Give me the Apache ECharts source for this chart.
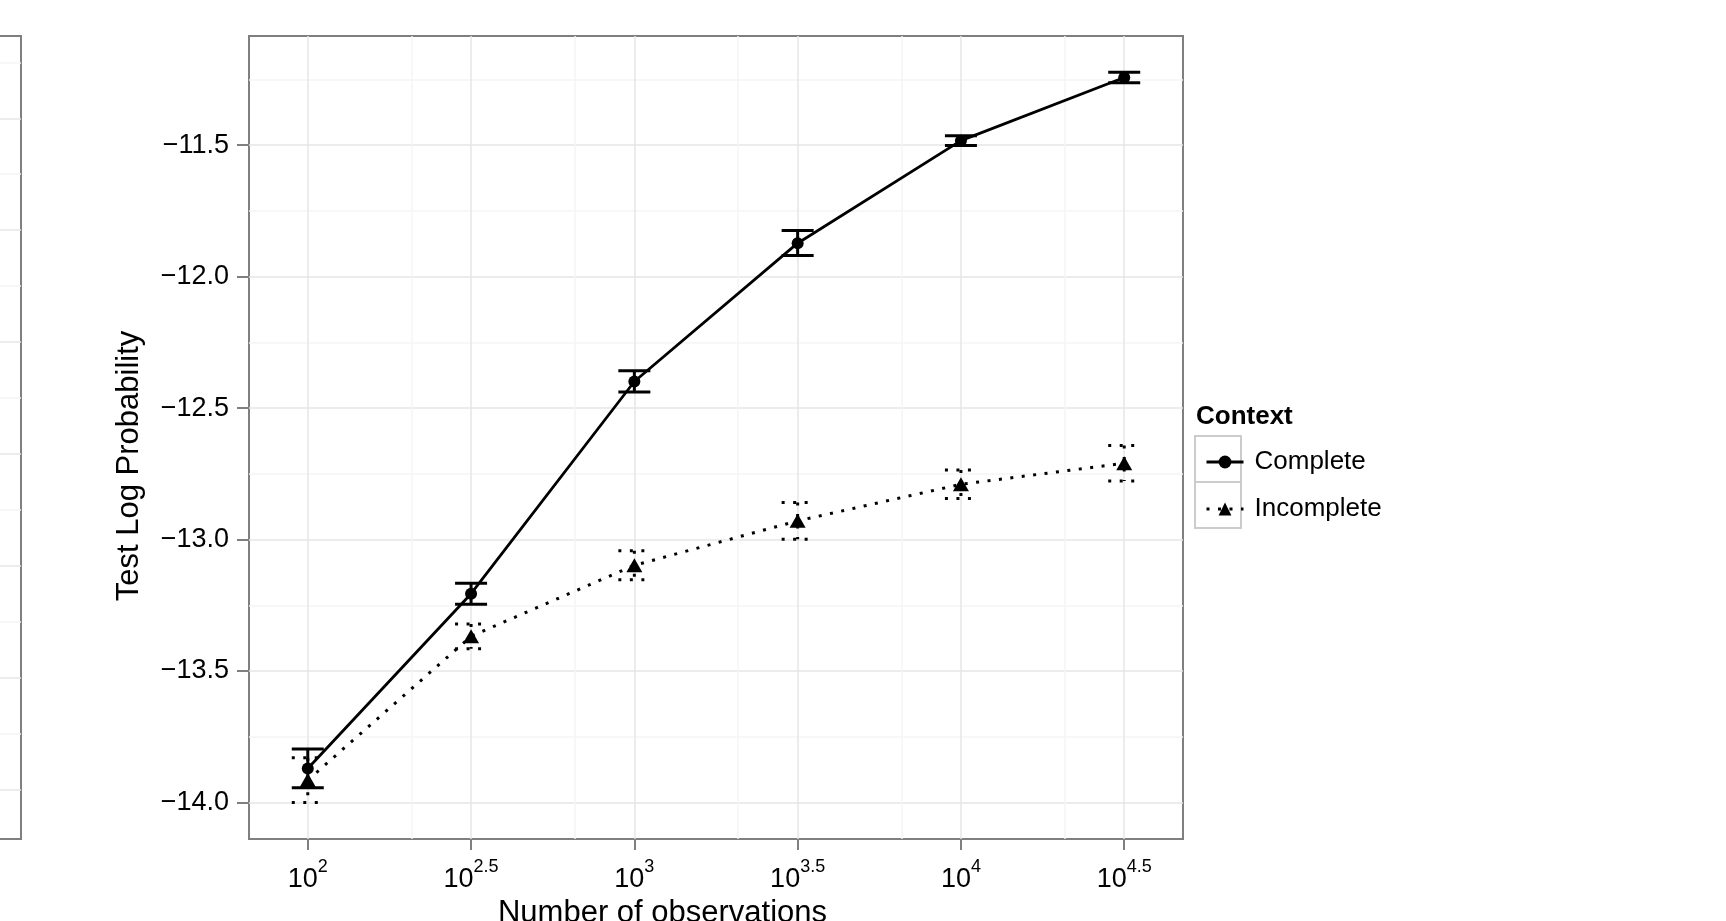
<!DOCTYPE html>
<html>
<head>
<meta charset="utf-8">
<title>Test Log Probability</title>
<script src="https://cdn.jsdelivr.net/npm/echarts@6/dist/echarts.min.js"></script>
<style>
  html, body { margin: 0; padding: 0; background: #fff; }
  #chart { width: 1726px; height: 921px; }
</style>
</head>
<body>
<div id="chart"></div>
<script>
// x is log10(number of observations)
const xLog = [2, 2.5, 3, 3.5, 4, 4.5]
const xTicks = [2, 2.5, 3, 3.5, 4, 4.5]
const xMinor = [2.318, 2.818, 3.318, 3.818, 4.318]

const yTicks = [-14, -13.5, -13, -12.5, -12, -11.5]
const yMinor = [-13.75, -13.25, -12.75, -12.25, -11.75, -11.25]

const completeMean = [-13.871, -13.206, -12.399, -11.873, -11.483, -11.243]
const completeLow = [-13.944, -13.246, -12.439, -11.92, -11.501, -11.263]
const completeHigh = [-13.797, -13.166, -12.358, -11.825, -11.464, -11.223]

const incompleteMean = [-13.915, -13.368, -13.098, -12.929, -12.79, -12.71]
const incompleteLow = [-14.0, -13.415, -13.153, -12.999, -12.844, -12.777]
const incompleteHigh = [-13.83, -13.321, -13.043, -12.859, -12.736, -12.642]

// grid lines of the neighbouring panel (only its right edge is visible)
const leftTicks = [0, 1, 2, 3, 4, 5, 6]
const leftMinor = [0.5, 1.5, 2.5, 3.5, 4.5, 5.5, 6.5]

const FONT = '"Liberation Sans", Arial, Helvetica, sans-serif'
const CAP = 0.049 // half width of error bar caps, in log10 units

const chart = echarts.init(document.getElementById('chart'))

function errorBar(dash) {
  return function (params, api) {
    const x = api.value(0)
    const lo = api.value(1)
    const hi = api.value(2)
    const style = { stroke: '#000', lineWidth: 3, lineDash: dash, lineCap: 'butt', fill: null }
    const top = api.coord([x, hi])
    const bot = api.coord([x, lo])
    const tl = api.coord([x - CAP, hi])
    const tr = api.coord([x + CAP, hi])
    const bl = api.coord([x - CAP, lo])
    const br = api.coord([x + CAP, lo])
    return {
      type: 'group',
      children: [
        { type: 'line', shape: { x1: top[0], y1: top[1], x2: bot[0], y2: bot[1] }, style: style },
        { type: 'line', shape: { x1: tl[0], y1: tl[1], x2: tr[0], y2: tr[1] }, style: style },
        { type: 'line', shape: { x1: bl[0], y1: bl[1], x2: br[0], y2: br[1] }, style: style },
      ],
    }
  }
}

const minusFmt = v => (v < 0 ? '\u2212' : '') + Math.abs(v).toFixed(1)

chart.setOption({
  animation: false,
  backgroundColor: '#fff',
  grid: [
    { left: 249, right: 543, top: 36, bottom: 82, show: true, borderColor: '#7f7f7f', borderWidth: 2, backgroundColor: '#fff', outerBoundsMode: 'none', containLabel: false },
    { left: -400, width: 421, top: 36, bottom: 82, show: true, borderColor: '#7f7f7f', borderWidth: 2, backgroundColor: '#fff', outerBoundsMode: 'none', containLabel: false },
  ],
  xAxis: [
    {
      type: 'value', gridIndex: 0, min: 1.82, max: 4.68,
      axisLine: { show: false },
      axisTick: { customValues: xTicks, length: 11, lineStyle: { color: '#7f7f7f', width: 2 } },
      axisLabel: {
        customValues: xTicks,
        margin: 19,
        formatter: v => '{b|10}{s|' + v + '}',
        rich: {
          b: { fontSize: 27, lineHeight: 35, verticalAlign: 'bottom', color: '#000', fontFamily: FONT },
          s: { fontSize: 18, lineHeight: 18, verticalAlign: 'top', color: '#000', fontFamily: FONT },
        },
      },
      splitLine: { lineStyle: { color: '#e6e6e6', width: 1.5 } },
    },
    {
      type: 'value', gridIndex: 0, min: 1.82, max: 4.68,
      axisLine: { show: false },
      axisTick: { show: false, customValues: xMinor },
      axisLabel: { show: false },
      splitLine: { lineStyle: { color: '#f5f5f5', width: 1.5 } },
    },
    { type: 'value', gridIndex: 1, min: 0, max: 1, show: false },
  ],
  yAxis: [
    {
      type: 'value', gridIndex: 0, min: -14.139, max: -11.085,
      axisLine: { show: false },
      axisTick: { customValues: yTicks, length: 12, lineStyle: { color: '#7f7f7f', width: 2 } },
      axisLabel: { customValues: yTicks, margin: 20, formatter: minusFmt, fontSize: 27, color: '#000', fontFamily: FONT },
      splitLine: { lineStyle: { color: '#e6e6e6', width: 1.5 } },
    },
    {
      type: 'value', gridIndex: 0, min: -14.139, max: -11.085,
      axisLine: { show: false },
      axisTick: { show: false, customValues: yMinor },
      axisLabel: { show: false },
      splitLine: { lineStyle: { color: '#f5f5f5', width: 1.5 } },
    },
    {
      type: 'value', gridIndex: 1, min: -0.4445, max: 6.736,
      axisLine: { show: false },
      axisTick: { show: false, customValues: leftTicks },
      axisLabel: { show: false },
      splitLine: { lineStyle: { color: '#e6e6e6', width: 1.5 } },
    },
    {
      type: 'value', gridIndex: 1, min: -0.4445, max: 6.736,
      axisLine: { show: false },
      axisTick: { show: false, customValues: leftMinor },
      axisLabel: { show: false },
      splitLine: { lineStyle: { color: '#f5f5f5', width: 1.5 } },
    },
  ],
  legend: {
    data: ['Complete', 'Incomplete'],
    orient: 'vertical',
    left: 1200,
    top: 444,
    itemWidth: 37,
    itemHeight: 16,
    itemGap: 21,
    selectedMode: false,
    lineStyle: { width: 3 },
    textStyle: { fontSize: 26, color: '#000', fontFamily: FONT, padding: [0, 0, 0, 6] },
  },
  graphic: [
    { type: 'rect', z: 0, shape: { x: 1195, y: 436, width: 46, height: 46 }, style: { fill: 'none', stroke: '#cccccc', lineWidth: 2 } },
    { type: 'rect', z: 0, shape: { x: 1195, y: 482, width: 46, height: 46 }, style: { fill: 'none', stroke: '#cccccc', lineWidth: 2 } },
    {
      type: 'text', x: 1196, y: 417,
      style: { text: 'Context', font: 'bold 26px ' + FONT, fill: '#000', textAlign: 'left', textVerticalAlign: 'middle', align: 'left', verticalAlign: 'middle' },
    },
    {
      type: 'text', x: 662.5, y: 913,
      style: { text: 'Number of observations', font: '31px ' + FONT, fill: '#000', textAlign: 'center', textVerticalAlign: 'middle', align: 'center', verticalAlign: 'middle' },
    },
    {
      type: 'text', x: 129.5, y: 466, rotation: Math.PI / 2,
      style: { text: 'Test Log Probability', font: '31px ' + FONT, fill: '#000', textAlign: 'center', textVerticalAlign: 'middle', align: 'center', verticalAlign: 'middle' },
    },
  ],
  series: [
    {
      name: 'Complete bars', type: 'custom', xAxisIndex: 0, yAxisIndex: 0,
      renderItem: errorBar(null),
      encode: { x: 0, y: [1, 2] },
      data: xLog.map((x, i) => [x, completeLow[i], completeHigh[i]]),
      z: 3,
    },
    {
      name: 'Incomplete bars', type: 'custom', xAxisIndex: 0, yAxisIndex: 0,
      renderItem: errorBar([3, 8.5]),
      encode: { x: 0, y: [1, 2] },
      data: xLog.map((x, i) => [x, incompleteLow[i], incompleteHigh[i]]),
      z: 3,
    },
    {
      name: 'Complete', type: 'line', xAxisIndex: 0, yAxisIndex: 0,
      data: xLog.map((x, i) => [x, completeMean[i]]),
      symbol: 'circle', symbolSize: 12,
      itemStyle: { color: '#000' },
      lineStyle: { color: '#000', width: 2.8 },
      z: 4,
    },
    {
      name: 'Incomplete', type: 'line', xAxisIndex: 0, yAxisIndex: 0,
      data: xLog.map((x, i) => [x, incompleteMean[i]]),
      symbol: 'triangle', symbolSize: [16, 14],
      itemStyle: { color: '#000' },
      lineStyle: { color: '#000', width: 3, type: [3, 8.5], cap: 'butt' },
      z: 4,
    },
  ],
})
</script>
</body>
</html>
